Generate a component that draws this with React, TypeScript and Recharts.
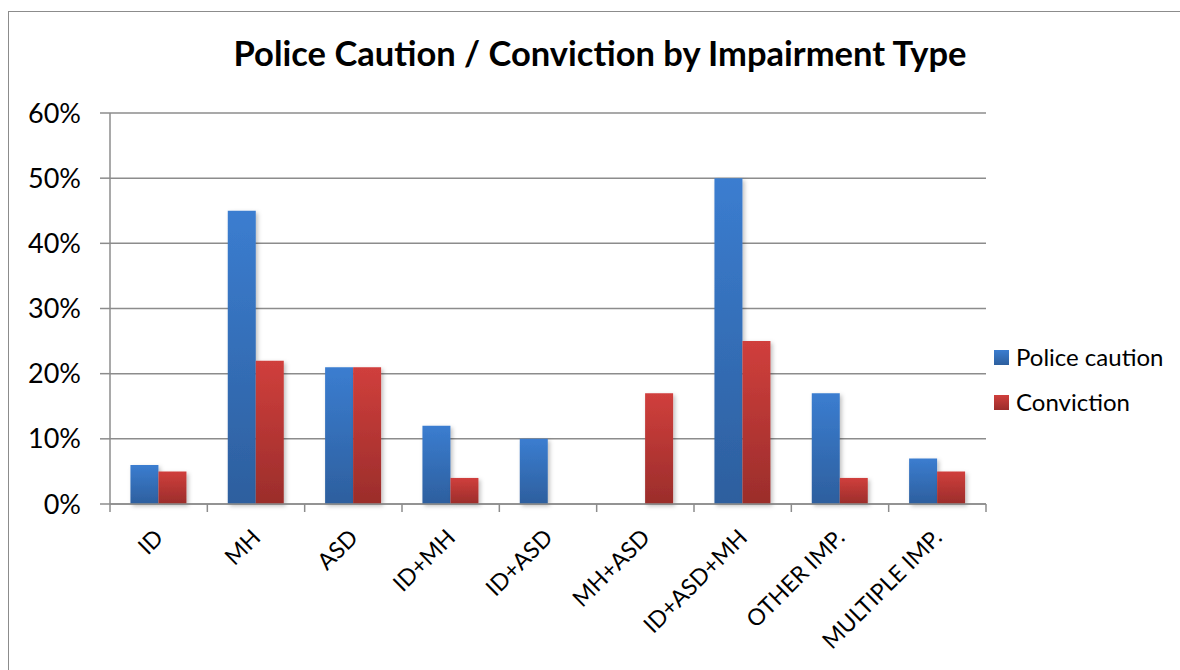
import { BarChart, Bar, XAxis, YAxis, CartesianGrid, Legend } from 'recharts'

const categories = ['ID', 'MH', 'ASD', 'ID+MH', 'ID+ASD', 'MH+ASD', 'ID+ASD+MH', 'OTHER IMP.', 'MULTIPLE IMP.']
const policeCaution = [6, 45, 21, 12, 10, 0, 50, 17, 7]
const conviction = [5, 22, 21, 4, 0, 17, 25, 4, 5]
const yTicks = [0, 10, 20, 30, 40, 50, 60]

const data = categories.map((name, i) => ({
  name,
  police: policeCaution[i],
  conviction: conviction[i],
}))

const FONT = 'Lato, "Open Sans", sans-serif'
const AXIS = '#8c8c8c'

// category label rotated 45deg plus tick mark at the band boundary
function CategoryTick(props: any) {
  const { x, y, payload, index } = props
  const half = payload.offset || 0
  const last = index === categories.length - 1
  return (
    <g>
      <line x1={x - half} x2={x - half} y1={y - 8} y2={y} stroke={AXIS} strokeWidth={1.5} />
      {last && <line x1={x + half} x2={x + half} y1={y - 8} y2={y} stroke={AXIS} strokeWidth={1.5} />}
      <text
        x={x + 6}
        y={y + 27}
        transform={`rotate(-45 ${x + 6} ${y + 27})`}
        textAnchor="end"
        fontSize={23}
        fontFamily={FONT}
        fill="#000"
      >
        {payload.value}
      </text>
    </g>
  )
}

function LegendBox() {
  const items = [
    { label: 'Police caution', id: 'legBlue', top: '#3b7dd0', bottom: '#2d5f9e' },
    { label: 'Conviction', id: 'legRed', top: '#d03f3c', bottom: '#9b2d2b' },
  ]
  return (
    <div style={{ fontFamily: FONT, fontSize: 24, color: '#000' }}>
      {items.map((it) => (
        <div key={it.id} style={{ display: 'flex', alignItems: 'center', height: 45 }}>
          <svg width={16} height={16} style={{ marginRight: 6 }}>
            <defs>
              <linearGradient id={it.id} x1="0" y1="0" x2="0" y2="1">
                <stop offset="0" stopColor={it.top} />
                <stop offset="1" stopColor={it.bottom} />
              </linearGradient>
            </defs>
            <rect x={0} y={1} width={15} height={15} fill={`url(#${it.id})`} />
          </svg>
          <span>{it.label}</span>
        </div>
      ))}
    </div>
  )
}

export default function App() {
  return (
    <div style={{ position: 'absolute', left: 0, top: 0, width: 1180, height: 670, overflow: 'hidden', background: '#fff' }}>
      <div
        style={{
          position: 'absolute',
          left: 8,
          top: 11,
          width: 1200,
          height: 700,
          border: '1.5px solid #8c8c8c',
        }}
      />
      <div
        style={{
          position: 'absolute',
          left: 0,
          top: 32,
          width: 1200,
          textAlign: 'center',
          fontFamily: FONT,
          fontWeight: 700,
          fontSize: 34.5,
          color: '#000',
        }}
      >
        Police Caution / Conviction by Impairment Type
      </div>
      <div style={{ position: 'absolute', left: 0, top: 0 }}>
        <BarChart
          width={1180}
          height={670}
          data={data}
          margin={{ top: 113, right: 194, bottom: 0, left: 10 }}
          barCategoryGap="21%"
          barGap={0}
        >
          <defs>
            <linearGradient id="gradBlue" x1="0" y1="0" x2="0" y2="1">
              <stop offset="0" stopColor="#3b7dd0" />
              <stop offset="1" stopColor="#2d5f9e" />
            </linearGradient>
            <linearGradient id="gradRed" x1="0" y1="0" x2="0" y2="1">
              <stop offset="0" stopColor="#d03f3c" />
              <stop offset="1" stopColor="#9b2d2b" />
            </linearGradient>
            <filter id="barShadow" x="-20%" y="-10%" width="150%" height="130%">
              <feDropShadow dx="2" dy="2" stdDeviation="2" floodColor="#000" floodOpacity="0.25" />
            </filter>
          </defs>
          <CartesianGrid vertical={false} stroke={AXIS} strokeWidth={1.5} />
          <XAxis
            dataKey="name"
            interval={0}
            tickLine={false}
            axisLine={{ stroke: AXIS, strokeWidth: 1.5 }}
            tick={<CategoryTick />}
            height={166}
          />
          <YAxis
            domain={[0, 60]}
            ticks={yTicks}
            interval={0}
            width={100}
            tickSize={10}
            tickMargin={19}
            tickFormatter={(v: number) => `${v}%`}
            axisLine={{ stroke: AXIS, strokeWidth: 1.5 }}
            tickLine={{ stroke: AXIS, strokeWidth: 1.5 }}
            tick={{ fontSize: 27, fontFamily: FONT, fill: '#000' }}
          />
          <Legend
            layout="horizontal"
            verticalAlign="middle"
            align="center"
            content={<LegendBox />}
            wrapperStyle={{ left: 994, top: 334, width: 190, right: 'auto', bottom: 'auto' }}
          />
          <Bar dataKey="police" name="Police caution" fill="url(#gradBlue)" filter="url(#barShadow)" isAnimationActive={false} />
          <Bar dataKey="conviction" name="Conviction" fill="url(#gradRed)" filter="url(#barShadow)" isAnimationActive={false} />
        </BarChart>
      </div>
    </div>
  )
}
